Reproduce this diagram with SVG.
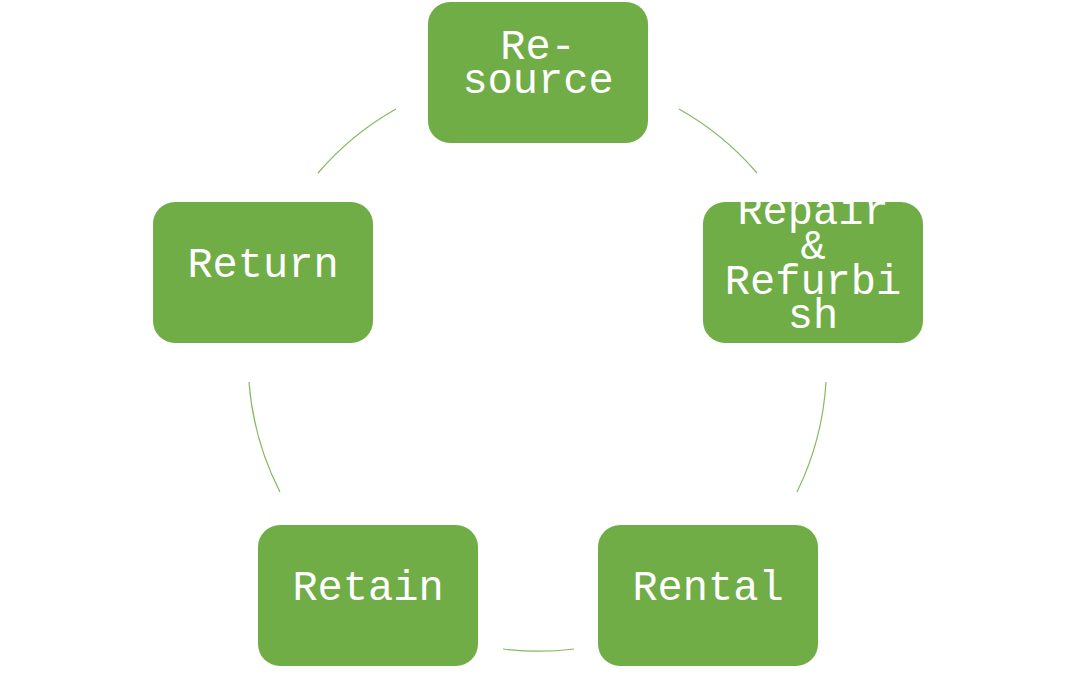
<svg xmlns="http://www.w3.org/2000/svg" width="1076" height="678" viewBox="0 0 1076 678">
<style>
.box{fill:#70AD47;}
.lbl{fill:#ffffff;font-family:"Liberation Mono","Courier New",monospace;font-size:42px;text-anchor:middle;}
.arc{fill:none;stroke:#70AD47;stroke-width:1.2;opacity:0.85;}
</style>
<rect width="1076" height="678" fill="#ffffff"/>
<g id="connectors">
<path class="arc" d="M679,109 A289.5,289.5 0 0 1 757,173"/>
<path class="arc" d="M826,382 A289.5,289.5 0 0 1 797,492"/>
<path class="arc" d="M574,649 A289.5,289.5 0 0 1 503,649"/>
<path class="arc" d="M280,492 A289.5,289.5 0 0 1 249,382"/>
<path class="arc" d="M318,173 A289.5,289.5 0 0 1 396,109"/>
</g>
<g id="resource">
<rect class="box" x="428" y="2" width="220" height="141" rx="22"/>
<text class="lbl" x="538" y="59">Re-</text>
<text class="lbl" x="538" y="93">source</text>
</g>
<g id="repair">
<rect class="box" x="703" y="202" width="220" height="141" rx="22"/>
<text class="lbl" x="813" y="224">Repair</text>
<text class="lbl" x="813" y="259">&amp;</text>
<text class="lbl" x="813" y="294">Refurbi</text>
<text class="lbl" x="813" y="328">sh</text>
</g>
<g id="rental">
<rect class="box" x="598" y="525" width="220" height="141" rx="22"/>
<text class="lbl" x="708" y="600">Rental</text>
</g>
<g id="retain">
<rect class="box" x="258" y="525" width="220" height="141" rx="22"/>
<text class="lbl" x="368" y="600">Retain</text>
</g>
<g id="return">
<rect class="box" x="153" y="202" width="220" height="141" rx="22"/>
<text class="lbl" x="263" y="277">Return</text>
</g>
</svg>
